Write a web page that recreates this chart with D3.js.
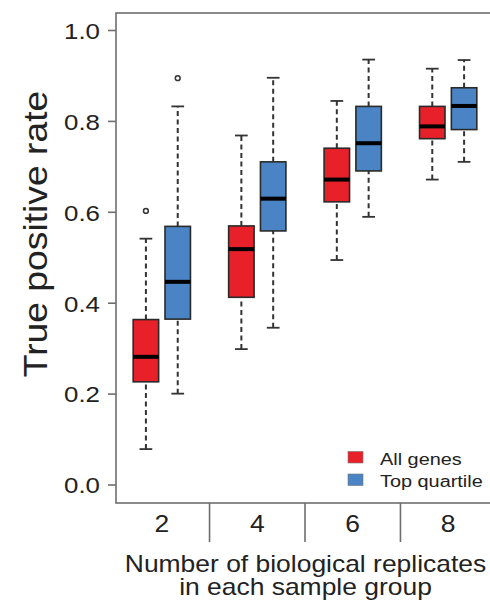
<!DOCTYPE html>
<html>
<head>
<meta charset="utf-8">
<script src="https://cdn.jsdelivr.net/npm/d3@7"></script>
<style>
  html, body { margin: 0; padding: 0; background: #fff; }
  svg { display: block; font-family: "Liberation Sans", Arial, sans-serif; }
</style>
</head>
<body>
<svg id="chart" width="490" height="609"></svg>
<script>
// Data: [lower whisker, Q1, median, Q3, upper whisker]
const groups = ["2", "4", "6", "8"];
const seriesNames = ["All genes", "Top quartile"];
const seriesColours = ["#e8202a", "#4a84c4"];

const allGenes = [
    [0.079, 0.227, 0.282, 0.364, 0.542],
    [0.299, 0.413, 0.519, 0.570, 0.769],
    [0.495, 0.623, 0.672, 0.741, 0.845],
    [0.672, 0.762, 0.789, 0.833, 0.916]
];
const allGenesOutliers = [[0.603], [], [], []];

const topQuartile = [
    [0.201, 0.365, 0.447, 0.569, 0.833],
    [0.346, 0.559, 0.630, 0.711, 0.896],
    [0.590, 0.691, 0.752, 0.833, 0.936],
    [0.711, 0.782, 0.834, 0.874, 0.935]
];
const topQuartileOutliers = [[0.895], [], [], []];

const yTicks = [0.0, 0.2, 0.4, 0.6, 0.8, 1.0];

const svg = d3.select("#chart");
const stretch = 1.15; // glyphs in the figure are wider than Arial
const textColour = "#222";
const frameColour = "#6e6e6e";

// R style positions: red at 1,4,7,10 and blue at 2,5,8,11
const x = d3.scaleLinear().domain([0.06, 11.94]).range([116, 494]);
const y = d3.scaleLinear().domain([0, 1]).range([485, 30.5]);

const plotTop = 13, plotBottom = 503, plotLeft = 116, plotRight = 494;

// build the list of boxes
var boxes = [];
groups.forEach(function(g, i) {
    boxes.push({ pos: 3 * i + 1, s: allGenes[i], out: allGenesOutliers[i], colour: seriesColours[0] });
    boxes.push({ pos: 3 * i + 2, s: topQuartile[i], out: topQuartileOutliers[i], colour: seriesColours[1] });
});

const halfBox = (x(1.4) - x(1)); // boxwex 0.8
const halfStaple = halfBox / 2;

var box = svg.selectAll(".box")
    .data(boxes)
    .enter().append("g")
    .attr("class", "box");

// dashed whiskers
box.append("line")
    .attr("x1", d => x(d.pos)).attr("x2", d => x(d.pos))
    .attr("y1", d => y(d.s[0])).attr("y2", d => y(d.s[1]))
    .attr("stroke", "#333").attr("stroke-width", 2)
    .attr("stroke-dasharray", "5,3.5");
box.append("line")
    .attr("x1", d => x(d.pos)).attr("x2", d => x(d.pos))
    .attr("y1", d => y(d.s[3])).attr("y2", d => y(d.s[4]))
    .attr("stroke", "#333").attr("stroke-width", 2)
    .attr("stroke-dasharray", "5,3.5");

// staples
[0, 4].forEach(function(k) {
    box.append("line")
        .attr("x1", d => x(d.pos) - halfStaple).attr("x2", d => x(d.pos) + halfStaple)
        .attr("y1", d => y(d.s[k])).attr("y2", d => y(d.s[k]))
        .attr("stroke", "#333").attr("stroke-width", 1.8);
});

// the box itself
box.append("rect")
    .attr("x", d => x(d.pos) - halfBox)
    .attr("width", 2 * halfBox)
    .attr("y", d => y(d.s[3]))
    .attr("height", d => y(d.s[1]) - y(d.s[3]))
    .attr("fill", d => d.colour)
    .attr("stroke", "#2a2a2a").attr("stroke-width", 1.6);

// median
box.append("line")
    .attr("x1", d => x(d.pos) - halfBox).attr("x2", d => x(d.pos) + halfBox)
    .attr("y1", d => y(d.s[2])).attr("y2", d => y(d.s[2]))
    .attr("stroke", "#000").attr("stroke-width", 4);

// outliers
box.selectAll(".outlier")
    .data(d => d.out.map(v => ({ pos: d.pos, v: v })))
    .enter().append("circle")
    .attr("class", "outlier")
    .attr("cx", d => x(d.pos)).attr("cy", d => y(d.v))
    .attr("r", 2.4)
    .attr("fill", "none").attr("stroke", "#333").attr("stroke-width", 1.5);

// plot frame
svg.append("rect")
    .attr("x", plotLeft).attr("y", plotTop)
    .attr("width", plotRight - plotLeft).attr("height", plotBottom - plotTop)
    .attr("fill", "none").attr("stroke", frameColour).attr("stroke-width", 1.6);

// y axis ticks and labels
var yAxis = svg.append("g");
yAxis.selectAll(".ytick")
    .data(yTicks)
    .enter().append("line")
    .attr("x1", plotLeft - 8).attr("x2", plotLeft)
    .attr("y1", d => y(d)).attr("y2", d => y(d))
    .attr("stroke", frameColour).attr("stroke-width", 1.6);
yAxis.selectAll(".ylab")
    .data(yTicks)
    .enter().append("text")
    .attr("transform", d => "translate(100," + (y(d) + 8.3) + ") scale(" + stretch + ",1)")
    .attr("text-anchor", "end")
    .attr("font-size", 22.5)
    .attr("fill", textColour)
    .text(d => d.toFixed(1));

// x axis: separators between groups, labels at group centres
svg.selectAll(".sep")
    .data([3, 6, 9])
    .enter().append("line")
    .attr("x1", d => x(d)).attr("x2", d => x(d))
    .attr("y1", plotBottom).attr("y2", 542)
    .attr("stroke", frameColour).attr("stroke-width", 1.6);
svg.selectAll(".xlab")
    .data(groups)
    .enter().append("text")
    .attr("transform", (d, i) => "translate(" + x(3 * i + 1.5) + ",531.5) scale(" + stretch + ",1)")
    .attr("text-anchor", "middle")
    .attr("font-size", 23)
    .attr("fill", textColour)
    .text(d => d);

// axis titles
svg.append("text")
    .attr("transform", "translate(305.5,571.5) scale(" + stretch + ",1)")
    .attr("text-anchor", "middle")
    .attr("font-size", 23)
    .attr("fill", textColour)
    .text("Number of biological replicates");
svg.append("text")
    .attr("transform", "translate(305.5,595) scale(" + stretch + ",1)")
    .attr("text-anchor", "middle")
    .attr("font-size", 23)
    .attr("fill", textColour)
    .text("in each sample group");
svg.append("text")
    .attr("transform", "translate(46.5,234) rotate(-90) scale(" + stretch + ",1)")
    .attr("text-anchor", "middle")
    .attr("font-size", 32.4)
    .attr("fill", textColour)
    .text("True positive rate");

// legend
var legend = svg.selectAll(".legend")
    .data(seriesNames)
    .enter().append("g")
    .attr("class", "legend")
    .attr("transform", (d, i) => "translate(348," + (451.5 + i * 22.5) + ")");
legend.append("rect")
    .attr("width", 15).attr("height", 11.5)
    .attr("fill", (d, i) => seriesColours[i])
    .attr("stroke", "#777").attr("stroke-width", 0.6);
legend.append("text")
    .attr("transform", "translate(32,13.3) scale(" + stretch + ",1)")
    .attr("font-size", 17.3)
    .attr("fill", textColour)
    .text(d => d);
</script>
</body>
</html>
